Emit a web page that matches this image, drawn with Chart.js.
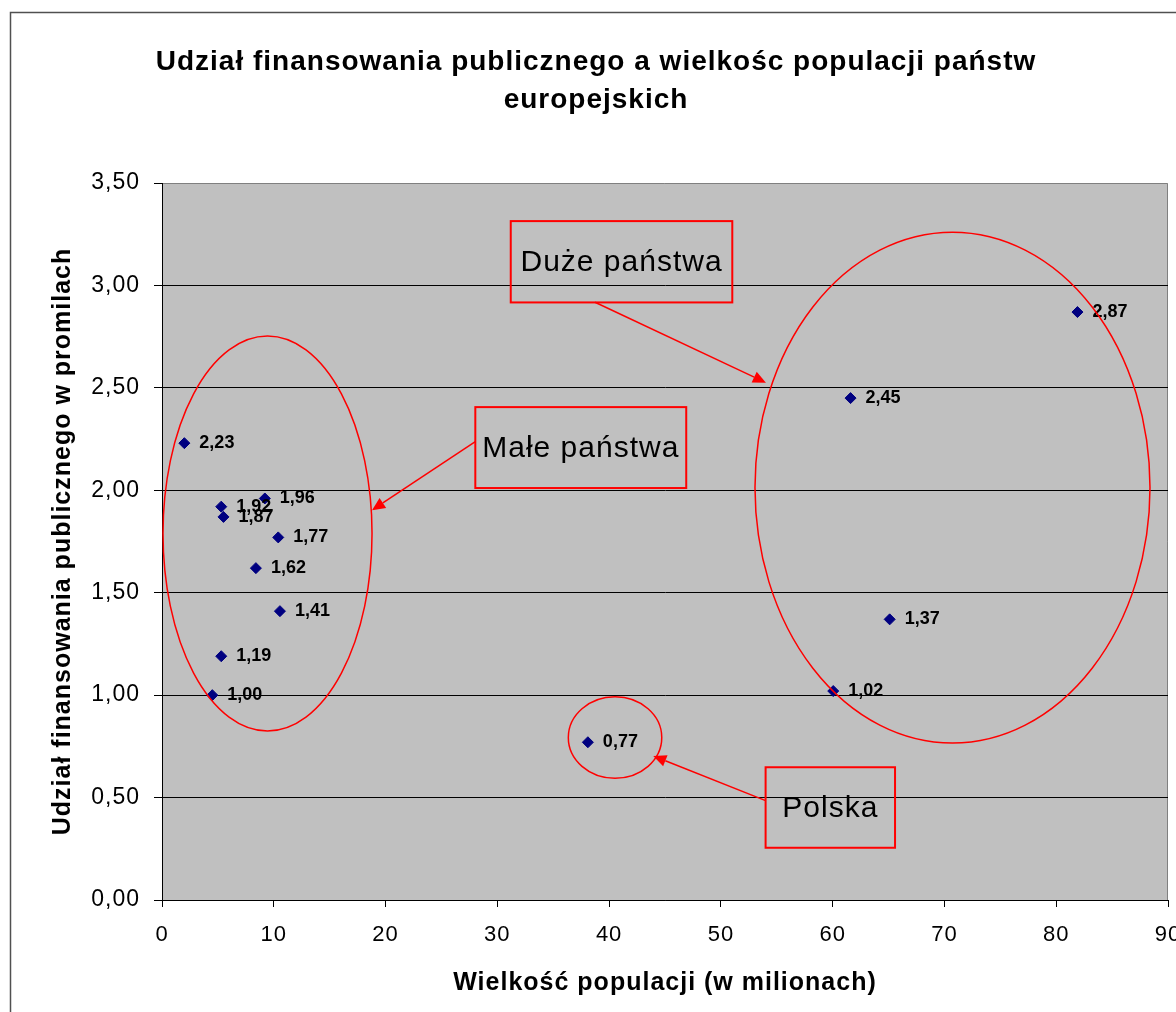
<!DOCTYPE html>
<html>
<head>
<meta charset="utf-8">
<script src="https://cdn.jsdelivr.net/npm/chart.js@4/dist/chart.umd.min.js"></script>
<style>
html,body{margin:0;padding:0;background:#fff;}
#wrap{width:1176px;height:1012px;position:relative;}
</style>
</head>
<body>
<div id="wrap"><canvas id="c" width="1176" height="1012"></canvas></div>
<script>
// ---- data ----
const population = [2.0, 5.3, 5.5, 9.2, 10.4, 8.4, 10.55, 5.3, 4.5, 38.1, 60.05, 61.6, 65.1, 81.9];
const fundingShare = [2.23, 1.92, 1.87, 1.96, 1.77, 1.62, 1.41, 1.19, 1.00, 0.77, 1.02, 2.45, 1.37, 2.87];
const yTickValues = [0, 0.5, 1.0, 1.5, 2.0, 2.5, 3.0, 3.5];
const xTickValues = [0, 10, 20, 30, 40, 50, 60, 70, 80, 90];
const titleLines = ['Udział finansowania publicznego a wielkośc populacji państw', 'europejskich'];
const xTitle = 'Wielkość populacji (w milionach)';
const yTitle = 'Udział finansowania publicznego w promilach';

// annotation groups (in data units)
const groupEllipses = [
  {cx: 9.44, cy: 1.789, rx: 9.35, ry: 0.964},
  {cx: 70.72, cy: 2.013, rx: 17.67, ry: 1.247},
  {cx: 40.53, cy: 0.793, rx: 4.18, ry: 0.199}
];
const groupBoxes = [
  {text: 'Duże państwa', x1: 31.2, y1: 3.314, x2: 51.02, y2: 2.917},
  {text: 'Małe państwa', x1: 28.03, y1: 2.406, x2: 46.9, y2: 2.011},
  {text: 'Polska', x1: 54.0, y1: 0.648, x2: 65.58, y2: 0.255}
];
const groupArrows = [
  {x1: 38.74, y1: 2.918, x2: 54.03, y2: 2.525},
  {x1: 28.03, y1: 2.237, x2: 18.79, y2: 1.903},
  {x1: 54.0, y1: 0.485, x2: 43.95, y2: 0.703}
];

const fmt = v => v.toFixed(2).replace('.', ',');
const FONT = '"Liberation Sans", Arial, sans-serif';

const frameAndBg = {
  id: 'frameAndBg',
  beforeDraw(chart) {
    const {ctx, chartArea: a} = chart;
    ctx.save();
    ctx.fillStyle = '#fff';
    ctx.fillRect(0, 0, chart.width, chart.height);
    ctx.strokeStyle = '#505050';
    ctx.lineWidth = 1.5;
    ctx.beginPath();
    ctx.moveTo(10.5, chart.height + 5);
    ctx.lineTo(10.5, 12.5);
    ctx.lineTo(chart.width + 5, 12.5);
    ctx.stroke();
    ctx.fillStyle = '#C0C0C0';
    ctx.fillRect(a.left, a.top, a.right - a.left, a.bottom - a.top);
    ctx.strokeStyle = '#808080';
    ctx.lineWidth = 1;
    ctx.beginPath();
    ctx.moveTo(a.left, a.top + 0.5);
    ctx.lineTo(a.right - 0.5, a.top + 0.5);
    ctx.lineTo(a.right - 0.5, a.bottom);
    ctx.stroke();
    ctx.restore();
    // slightly spaced lettering like the original rendering
    ctx.letterSpacing = '1px';
  }
};

const annotations = {
  id: 'annotations',
  afterDatasetsDraw(chart) {
    const {ctx} = chart;
    const xs = chart.scales.x, ys = chart.scales.y;
    const px = v => xs.getPixelForValue(v);
    const py = v => ys.getPixelForValue(v);
    ctx.save();
    ctx.letterSpacing = '0px';
    // value labels
    const meta = chart.getDatasetMeta(0);
    ctx.font = 'bold 18px ' + FONT;
    ctx.fillStyle = '#000';
    ctx.textAlign = 'left';
    ctx.textBaseline = 'middle';
    meta.data.forEach((pt, i) => {
      ctx.fillText(fmt(fundingShare[i]), pt.x + 15, pt.y);
    });
    ctx.strokeStyle = '#FF0000';
    ctx.fillStyle = '#FF0000';
    ctx.lineWidth = 1.5;
    groupEllipses.forEach(e => {
      const cx = px(e.cx), cy = py(e.cy);
      const rx = Math.abs(px(e.cx + e.rx) - cx), ry = Math.abs(py(e.cy + e.ry) - cy);
      ctx.beginPath();
      ctx.ellipse(cx, cy, rx, ry, 0, 0, Math.PI * 2);
      ctx.stroke();
    });
    groupArrows.forEach(ar => {
      const x1 = px(ar.x1), y1 = py(ar.y1), x2 = px(ar.x2), y2 = py(ar.y2);
      const ang = Math.atan2(y2 - y1, x2 - x1);
      const len = 13, half = 6;
      const bx = x2 - Math.cos(ang) * len, by = y2 - Math.sin(ang) * len;
      ctx.beginPath();
      ctx.moveTo(x1, y1);
      ctx.lineTo(bx, by);
      ctx.stroke();
      ctx.beginPath();
      ctx.moveTo(x2, y2);
      ctx.lineTo(bx + Math.sin(ang) * half, by - Math.cos(ang) * half);
      ctx.lineTo(bx - Math.sin(ang) * half, by + Math.cos(ang) * half);
      ctx.closePath();
      ctx.fill();
    });
    ctx.lineWidth = 2;
    ctx.letterSpacing = '1px';
    ctx.font = '30px ' + FONT;
    ctx.textAlign = 'center';
    ctx.textBaseline = 'middle';
    groupBoxes.forEach(b => {
      const x1 = px(b.x1), y1 = py(b.y1), x2 = px(b.x2), y2 = py(b.y2);
      ctx.strokeStyle = '#FF0000';
      ctx.strokeRect(x1, y1, x2 - x1, y2 - y1);
      ctx.fillStyle = '#000';
      ctx.fillText(b.text, (x1 + x2) / 2, (y1 + y2) / 2 + 1);
    });
    ctx.restore();
  }
};

new Chart(document.getElementById('c'), {
  type: 'scatter',
  data: {
    datasets: [{
      data: population.map((x, i) => ({x, y: fundingShare[i]})),
      pointStyle: 'rectRot',
      pointRadius: 5.5,
      pointHoverRadius: 5.5,
      backgroundColor: '#000080',
      borderColor: '#000080',
      borderWidth: 1
    }]
  },
  options: {
    responsive: false,
    animation: false,
    layout: {padding: {left: 16, right: 0, top: 0, bottom: 0}},
    plugins: {
      legend: {display: false},
      tooltip: {enabled: false},
      title: {
        display: true,
        text: titleLines,
        color: '#000',
        font: {family: FONT, size: 28, weight: 'bold', lineHeight: 38 / 28},
        padding: {top: 43, bottom: 64}
      }
    },
    scales: {
      x: {
        type: 'linear',
        min: 0, max: 90,
        afterBuildTicks: s => { s.ticks = xTickValues.map(v => ({value: v})); },
        afterFit: s => { s.paddingRight = 8; s.paddingLeft = 0; s.height = 112; },
        ticks: {
          color: '#000',
          font: {family: FONT, size: 22},
          padding: 15,
          maxRotation: 0,
          autoSkip: false
        },
        grid: {drawOnChartArea: false, drawTicks: true, tickLength: 7, tickColor: '#000'},
        border: {display: true, color: '#000', width: 1},
        title: {
          display: true,
          text: xTitle,
          color: '#000',
          font: {family: FONT, size: 25, weight: 'bold'},
          padding: {top: 0, bottom: 14}
        }
      },
      y: {
        type: 'linear',
        min: 0, max: 3.5,
        afterBuildTicks: s => { s.ticks = yTickValues.map(v => ({value: v})); },
        afterFit: s => { s.width = 146; },
        ticks: {
          color: '#000',
          font: {family: FONT, size: 23},
          padding: 14,
          callback: v => fmt(v)
        },
        grid: {
          drawOnChartArea: true,
          drawTicks: true,
          tickLength: 8,
          tickColor: '#000',
          color: ctx => (ctx.tick && ctx.tick.value === 3.5) ? 'rgba(0,0,0,0)' : '#000',
          lineWidth: 1
        },
        border: {display: true, color: '#000', width: 1},
        title: {
          display: true,
          text: yTitle,
          color: '#000',
          font: {family: FONT, size: 25, weight: 'bold'},
          padding: {top: 32, bottom: 0}
        }
      }
    }
  },
  plugins: [frameAndBg, annotations]
});
</script>
</body>
</html>
